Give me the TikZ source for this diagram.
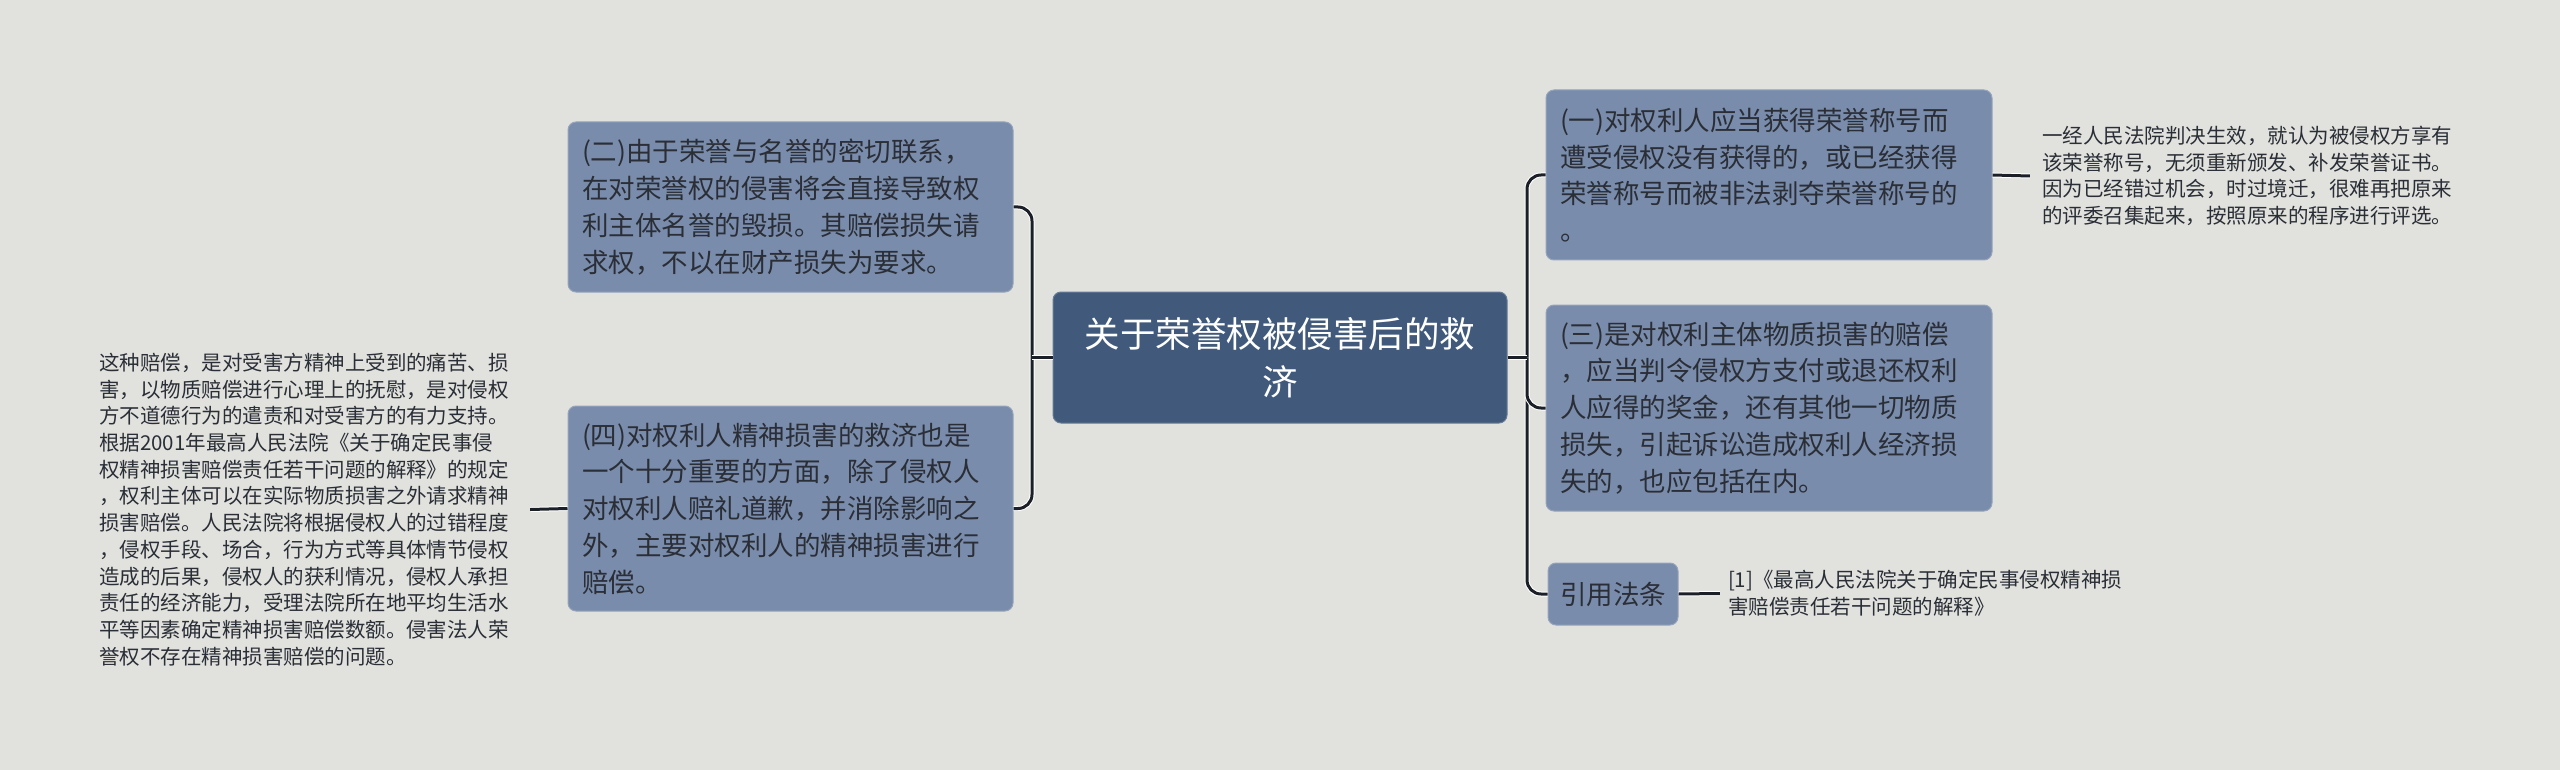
\documentclass[tikz,border=0pt]{standalone}
\usepackage{fontspec}
\setmainfont{Noto Sans CJK SC}
\definecolor{bgc}{HTML}{E1E2DD}
\definecolor{subc}{HTML}{7A8CAB}
\definecolor{subb}{HTML}{95A4BD}
\definecolor{mainc}{HTML}{415A7B}
\definecolor{txtc}{HTML}{2A2E36}
\definecolor{linec}{HTML}{1B1F27}
\tikzset{
  subbox/.style={fill=subc, draw=subb, line width=1pt, rounded corners=8pt, text=txtc,
    align=left, inner xsep=14pt, inner ysep=0pt, font=\fontsize{26.5}{36.8}\selectfont},
  mainbox/.style={fill=mainc, draw=mainc!80!white, line width=1pt, rounded corners=8pt, text=white,
    align=center, font=\fontsize{35.5}{48.5}\selectfont},
  plaintext/.style={text=txtc, align=left, inner ysep=0pt, font=\fontsize{20.5}{26.7}\selectfont},
  conn/.style={draw=linec, line width=3pt, rounded corners=14pt,
    preaction={draw=white, line width=5pt}},
}
\begin{document}
\begin{tikzpicture}[x=1pt,y=-1pt]
\fill[bgc] (0,0) rectangle (2560,770);
\useasboundingbox (0,0) rectangle (2560,770);

% center
\node[mainbox, minimum width=454pt, minimum height=131pt, text width=430pt] (c) at (1280,357.5)
  {关于荣誉权被侵害后的救\\济};

% left nodes
\node[subbox, minimum width=445pt, minimum height=170pt, text width=417pt] (er) at (790.5,207)
  {(二)由于荣誉与名誉的密切联系，\\在对荣誉权的侵害将会直接导致权\\利主体名誉的毁损。其赔偿损失请\\求权，不以在财产损失为要求。};
\node[subbox, minimum width=445pt, minimum height=205pt, text width=417pt] (si) at (790.5,508.5)
  {(四)对权利人精神损害的救济也是\\一个十分重要的方面，除了侵权人\\对权利人赔礼道歉，并消除影响之\\外，主要对权利人的精神损害进行\\赔偿。};
\node[plaintext, text width=420pt, inner xsep=11pt] (lt) at (309,509.5)
  {这种赔偿，是对受害方精神上受到的痛苦、损\\害，以物质赔偿进行心理上的抚慰，是对侵权\\方不道德行为的遣责和对受害方的有力支持。\\根据2001年最高人民法院《关于确定民事侵\\权精神损害赔偿责任若干问题的解释》的规定\\，权利主体可以在实际物质损害之外请求精神\\损害赔偿。人民法院将根据侵权人的过错程度\\，侵权手段、场合，行为方式等具体情节侵权\\造成的后果，侵权人的获利情况，侵权人承担\\责任的经济能力，受理法院所在地平均生活水\\平等因素确定精神损害赔偿数额。侵害法人荣\\誉权不存在精神损害赔偿的问题。};

% right nodes
\node[subbox, minimum width=446pt, minimum height=170pt, text width=418pt] (yi) at (1769,175)
  {(一)对权利人应当获得荣誉称号而\\遭受侵权没有获得的，或已经获得\\荣誉称号而被非法剥夺荣誉称号的\\。};
\node[subbox, minimum width=446pt, minimum height=206pt, text width=418pt] (san) at (1769,408)
  {(三)是对权利主体物质损害的赔偿\\，应当判令侵权方支付或退还权利\\人应得的奖金，还有其他一切物质\\损失，引起诉讼造成权利人经济损\\失的，也应包括在内。};
\node[subbox, minimum width=130pt, minimum height=62pt, inner xsep=4pt, align=center] (yy) at (1613,594) {引用法条};
\node[plaintext, text width=420pt, inner xsep=12pt] (rt) at (2252,176)
  {一经人民法院判决生效，就认为被侵权方享有\\该荣誉称号，无须重新颁发、补发荣誉证书。\\因为已经错过机会，时过境迁，很难再把原来\\的评委召集起来，按照原来的程序进行评选。};
\node[plaintext, text width=410pt, inner xsep=8pt] (ct) at (1933,593.5)
  {[1]《最高人民法院关于确定民事侵权精神损\\害赔偿责任若干问题的解释》};

% trunks
\coordinate (lk) at (1032,357.5);
\coordinate (rk) at (1527,357.5);

\draw[conn] (er.east) -| (lk) |- (si.east);
\draw[conn] (c.west) -- (lk);
\draw[conn] (yi.west) -| (rk) |- (yy.west);
\draw[conn] (rk) |- (san.west);
\draw[conn] (c.east) -- (rk);
\draw[conn] (si.west) -- (lt.east);
\draw[conn] (yi.east) -- (rt.west);
\draw[conn] (yy.east) -- (ct.west);
\end{tikzpicture}
\end{document}
